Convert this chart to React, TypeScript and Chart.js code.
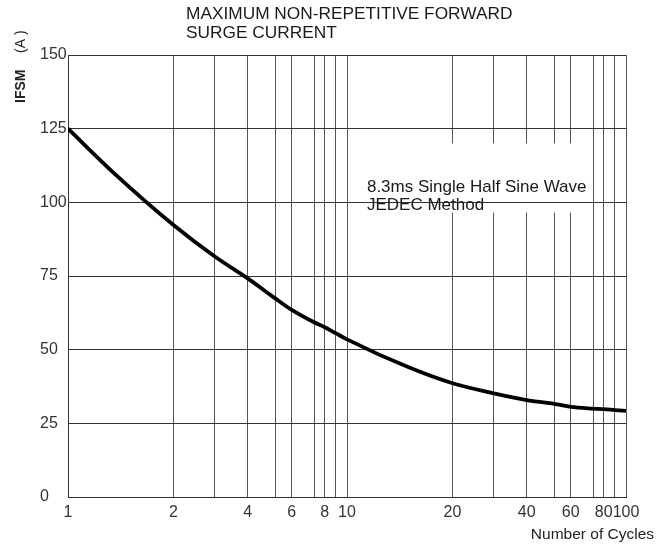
import { useEffect, useRef } from 'react';
import { Chart, registerables, LogarithmicScale } from 'chart.js';

// ---- data ----
const CYCLES = [1, 1.35, 2, 3, 4, 5, 6, 7, 8, 9, 10, 15, 20, 30, 40, 50, 60, 70, 80, 90, 100];
const IFSM_A = [125, 110, 92.3, 81.6, 74.2, 67.4, 63.5, 59.3, 57.6, 55.6, 53.5, 44, 38.6, 35.2, 32.9, 31.6, 30.6, 30.0, 29.8, 29.5, 29.2];

const X_GRID_CYCLES = [1, 2, 3, 4, 5, 6, 7, 8, 9, 10, 20, 30, 40, 50, 60, 70, 80, 90, 100];
const X_TICK_LABELS = [1, 2, 4, 6, 8, 10, 20, 40, 60, 80, 100];
const Y_TICKS = [0, 25, 50, 75, 100, 125, 150];

const TITLE_LINES = ['MAXIMUM NON-REPETITIVE FORWARD', 'SURGE CURRENT'];
const NOTE_LINES = ['8.3ms Single Half Sine Wave', 'JEDEC Method'];
const Y_TITLE_BOLD = 'IFSM';
const Y_TITLE_UNIT = '(A )';
const X_TITLE = 'Number of Cycles';

// spacing of the 1..10 lines inside one decade of the printed log paper (fraction of a decade)
const PAPER_DECADE_SPACING = [0, 0.378, 0.526, 0.644, 0.743, 0.802, 0.882, 0.92, 0.959, 1];

const FONT = '"Liberation Sans", Arial, Helvetica, sans-serif';

class PaperLogScale extends LogarithmicScale {
  static id = 'paperLog';

  paperPos(value: number): number {
    const lv = Math.log10(value);
    const dec = Math.floor(lv + 1e-9);
    let m = value / Math.pow(10, dec);
    if (m < 1) m = 1;
    let i = Math.floor(m + 1e-9) - 1;
    if (i > 8) i = 8;
    if (i < 0) i = 0;
    const f0 = PAPER_DECADE_SPACING[i];
    const f1 = PAPER_DECADE_SPACING[i + 1];
    const t = Math.log10(m / (i + 1)) / Math.log10((i + 2) / (i + 1));
    return dec + f0 + t * (f1 - f0);
  }

  getPixelForValue(value: any): number {
    if (value === null || value === undefined || isNaN(value) || value <= 0) return NaN;
    const s = this as any;
    const lmin = Math.log10(s.min);
    const lmax = Math.log10(s.max);
    const d = (this.paperPos(value) - lmin) / (lmax - lmin);
    return s.getPixelForDecimal(d);
  }

  getValueForPixel(pixel: number): number {
    const s = this as any;
    const d = s.getDecimalForPixel(pixel);
    const lmin = Math.log10(s.min);
    const lmax = Math.log10(s.max);
    const pos = lmin + d * (lmax - lmin);
    const dec = Math.floor(pos);
    const f = pos - dec;
    let i = 0;
    while (i < 8 && f > PAPER_DECADE_SPACING[i + 1]) i++;
    const t = (f - PAPER_DECADE_SPACING[i]) / (PAPER_DECADE_SPACING[i + 1] - PAPER_DECADE_SPACING[i]);
    return (i + 1) * Math.pow((i + 2) / (i + 1), t) * Math.pow(10, dec);
  }
}

Chart.register(...registerables, PaperLogScale as any);

const GRID_H = '#333333';
const GRID_V = '#555555';

const decorPlugin = {
  id: 'decor',
  beforeDatasetsDraw(chart: any) {
    const { ctx } = chart;
    const x = chart.scales.x;
    const y = chart.scales.y;
    // white band behind the note (interrupts vertical grid lines)
    const l = x.getPixelForValue(11);
    const r = x.getPixelForValue(66);
    const t = y.getPixelForValue(120);
    const b = y.getPixelForValue(96.5);
    ctx.save();
    ctx.fillStyle = '#ffffff';
    ctx.fillRect(l, t, r - l, b - t);
    const yy = Math.round(y.getPixelForValue(100)) + 0.5;
    ctx.strokeStyle = GRID_H;
    ctx.lineWidth = 1;
    ctx.beginPath();
    ctx.moveTo(l - 1, yy);
    ctx.lineTo(r + 1, yy);
    ctx.stroke();
    // note text
    ctx.fillStyle = '#1a1a1a';
    ctx.font = `17px ${FONT}`;
    ctx.textAlign = 'left';
    ctx.textBaseline = 'alphabetic';
    const nx = x.getPixelForValue(11.4);
    const ny = y.getPixelForValue(103.5);
    ctx.fillText(NOTE_LINES[0], nx, ny);
    ctx.fillText(NOTE_LINES[1], nx, ny + 18);
    ctx.restore();
  },
  afterDraw(chart: any) {
    const { ctx, chartArea } = chart;
    ctx.save();
    // main title
    ctx.fillStyle = '#1a1a1a';
    ctx.font = `17.3px ${FONT}`;
    ctx.textAlign = 'left';
    ctx.textBaseline = 'alphabetic';
    ctx.fillText(TITLE_LINES[0], chartArea.left + 118, 18.5);
    ctx.fillText(TITLE_LINES[1], chartArea.left + 118, 37.5);
    // y axis title (rotated)
    ctx.translate(chartArea.left - 47, 103);
    ctx.rotate(-Math.PI / 2);
    ctx.textBaseline = 'middle';
    ctx.font = `bold 14px ${FONT}`;
    ctx.fillStyle = '#222';
    ctx.fillText(Y_TITLE_BOLD, 0, 0);
    ctx.font = `14px ${FONT}`;
    ctx.fillText(Y_TITLE_UNIT, 50, 0);
    ctx.restore();
    // x axis title
    ctx.save();
    ctx.fillStyle = '#222';
    ctx.font = `15.5px ${FONT}`;
    ctx.textAlign = 'right';
    ctx.textBaseline = 'middle';
    ctx.fillText(X_TITLE, chartArea.right + 28, chartArea.bottom + 38);
    ctx.restore();
  },
};

export default function App() {
  const canvasRef = useRef<HTMLCanvasElement | null>(null);

  useEffect(() => {
    const canvas = canvasRef.current;
    if (!canvas) return;
    const chart = new Chart(canvas, {
      type: 'line',
      data: {
        datasets: [
          {
            data: CYCLES.map((c, i) => ({ x: c, y: IFSM_A[i] })),
            borderColor: '#000000',
            borderWidth: 3.8,
            pointRadius: 0,
            fill: false,
            cubicInterpolationMode: 'monotone',
          },
        ],
      },
      options: {
        responsive: false,
        animation: false,
        events: [],
        layout: { padding: { left: 40, right: 45, top: 55, bottom: 0 } },
        plugins: { legend: { display: false }, tooltip: { enabled: false }, title: { display: false } },
        scales: {
          x: {
            type: 'paperLog' as any,
            min: 1,
            max: 100,
            afterBuildTicks: (scale: any) => {
              scale.ticks = X_GRID_CYCLES.map((v) => ({ value: v }));
            },
            afterFit: (scale: any) => {
              scale.height = 54;
            },
            grid: { color: GRID_V, lineWidth: 1, drawTicks: false },
            border: { display: true, color: '#333333', width: 1 },
            ticks: {
              autoSkip: false,
              maxRotation: 0,
              padding: 6,
              color: '#333333',
              font: { family: FONT, size: 16 },
              callback: (value: any) => (X_TICK_LABELS.includes(Number(value)) ? String(value) : ''),
            },
          },
          y: {
            type: 'linear',
            min: 0,
            max: 150,
            afterBuildTicks: (scale: any) => {
              scale.ticks = Y_TICKS.map((v) => ({ value: v }));
            },
            afterFit: (scale: any) => {
              scale.width = 28;
            },
            grid: { color: GRID_H, lineWidth: 1, drawTicks: false },
            border: { display: true, color: '#333333', width: 1 },
            ticks: {
              crossAlign: 'far',
              padding: 2,
              color: '#333333',
              font: { family: FONT, size: 16 },
              callback: (value: any) => String(value),
            },
          },
        },
      },
      plugins: [decorPlugin],
    } as any);
    return () => chart.destroy();
  }, []);

  return (
    <div style={{ position: 'absolute', left: 0, top: 0, width: 671, height: 551, background: '#fff' }}>
      <canvas ref={canvasRef} width={671} height={551} style={{ display: 'block', width: 671, height: 551 }} />
    </div>
  );
}
